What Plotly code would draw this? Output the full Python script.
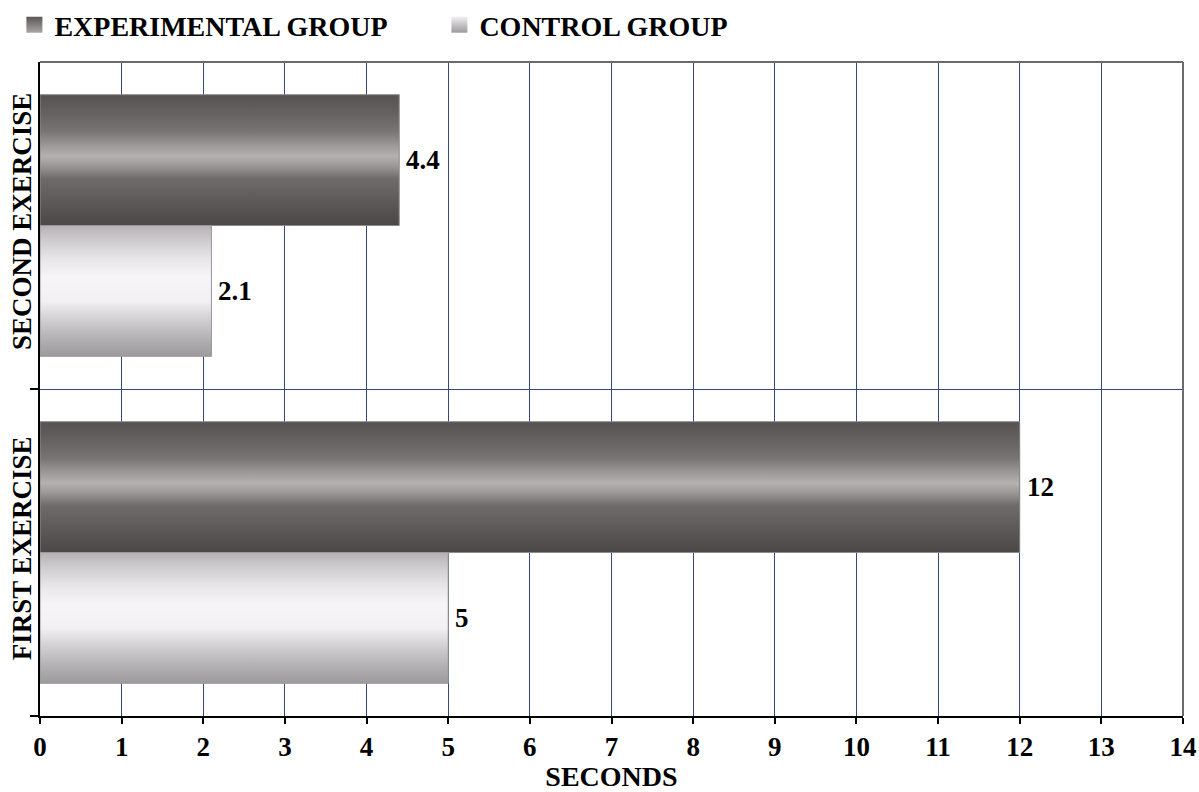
import plotly.graph_objects as go

# Data
categories = ["FIRST EXERCISE", "SECOND EXERCISE"]
series_names = ["EXPERIMENTAL GROUP", "CONTROL GROUP"]
experimental = [12, 4.4]
control = [5, 2.1]
x_ticks = list(range(0, 15))

# Cylinder-like shading, listed from the bottom edge of a bar to its top edge
experimental_shade = [
    [0.00, "#4a4746"], [0.18, "#5c5958"], [0.36, "#6e6b6a"], [0.45, "#989594"],
    [0.53, "#b4b1b0"], [0.61, "#9c9998"], [0.72, "#777473"], [0.86, "#646160"],
    [1.00, "#555251"],
]
control_shade = [
    [0.00, "#9c9a9c"], [0.12, "#b0aeb0"], [0.30, "#d6d3d6"], [0.42, "#f3f0f3"],
    [0.60, "#f8f5f8"], [0.75, "#e8e5e8"], [0.90, "#cbc9cb"], [1.00, "#b3b1b3"],
]
legend_swatch = [("#5a5757", "#a9a6a5"), ("#f2eff2", "#9c9a9c")]

serif = "Liberation Serif, Times New Roman, serif"
grid_color = "#34497a"

bargap = 0.2
n_series = 2
bar_h = (1 - bargap) / n_series
cat_pos = list(range(len(categories)))
# upper bar of each pair is the experimental group
offsets = [bar_h / 2, -bar_h / 2]

fig = go.Figure()

series = [experimental, control]
shades = [experimental_shade, control_shade]
edge_colors = ["#8e8b8a", "#9a989a"]

for s_idx, (name, values) in enumerate(zip(series_names, series)):
    for c_idx, v in enumerate(values):
        yc = cat_pos[c_idx] + offsets[s_idx]
        y0, y1 = yc - bar_h / 2, yc + bar_h / 2
        fig.add_trace(go.Scatter(
            x=[0, v, v, 0, 0],
            y=[y0, y0, y1, y1, y0],
            mode="lines",
            fill="toself",
            fillgradient=dict(type="vertical", colorscale=shades[s_idx],
                              start=y0, stop=y1),
            line=dict(color=edge_colors[s_idx], width=1),
            name=name,
            legendgroup=name,
            showlegend=False,
            hoverinfo="skip",
        ))
        fig.add_annotation(
            x=v, y=yc, xref="x", yref="y",
            text=f"{v:g}",
            showarrow=False,
            xanchor="left", yanchor="middle",
            xshift=2,
            bgcolor="white",
            borderpad=4,
            font=dict(family=serif, size=27, color="black", weight="bold"),
        )

# Legend entries
for s_idx, name in enumerate(series_names):
    top, bottom = legend_swatch[s_idx]
    fig.add_trace(go.Scatter(
        x=[None], y=[None],
        mode="markers",
        marker=dict(symbol="square", size=16, color=top,
                    gradient=dict(type="vertical", color=bottom),
                    line=dict(width=0)),
        name=name,
        legendgroup=name,
        showlegend=True,
    ))

# Plot frame: grey top and right edges
fig.add_shape(type="line", xref="paper", yref="paper", x0=0, x1=1, y0=1, y1=1,
              line=dict(color="#6b6b6b", width=2))
fig.add_shape(type="line", xref="paper", yref="paper", x0=1, x1=1, y0=0, y1=1,
              line=dict(color="#6b6b6b", width=2))

fig.update_layout(
    width=1199, height=792,
    margin=dict(l=40, r=16, t=62, b=76, autoexpand=False),
    paper_bgcolor="white",
    plot_bgcolor="white",
    font=dict(family=serif, size=27, color="black"),
    hovermode=False,
    showlegend=True,
    legend=dict(
        orientation="h",
        xref="container", yref="container",
        x=0.012, y=1 - 25 / 792,
        xanchor="left", yanchor="middle",
        font=dict(family=serif, size=28, color="black", weight="bold"),
        entrywidth=380,
        itemsizing="trace",
        bgcolor="rgba(0,0,0,0)",
    ),
    xaxis=dict(
        range=[0, 14],
        tickmode="array",
        tickvals=x_ticks,
        ticktext=[str(t) for t in x_ticks],
        ticks="outside", ticklen=6, tickwidth=1.5, tickcolor="black",
        tickfont=dict(family=serif, size=27, color="black", weight="bold"),
        showgrid=True, gridcolor=grid_color, gridwidth=1,
        showline=True, linecolor="black", linewidth=2,
        zeroline=False,
        automargin=False,
        title=dict(text="SECONDS", standoff=12,
                   font=dict(family=serif, size=28, color="black", weight="bold")),
        fixedrange=True,
    ),
    yaxis=dict(
        range=[-0.5, 1.5],
        tickmode="array",
        tickvals=cat_pos,
        ticktext=categories,
        tickangle=-90,
        ticks="", ticklen=0,
        ticklabelstandoff=-4,
        tickfont=dict(family=serif, size=27, color="black", weight="bold"),
        showgrid=False,
        minor=dict(tickmode="array", tickvals=[-0.5, 0.5], ticks="outside",
                   ticklen=8, tickcolor="black", tickwidth=1.5,
                   showgrid=True, gridcolor=grid_color, gridwidth=1),
        showline=True, linecolor="black", linewidth=2,
        zeroline=False,
        automargin=False,
        fixedrange=True,
    ),
)

fig.write_html("out.html")
